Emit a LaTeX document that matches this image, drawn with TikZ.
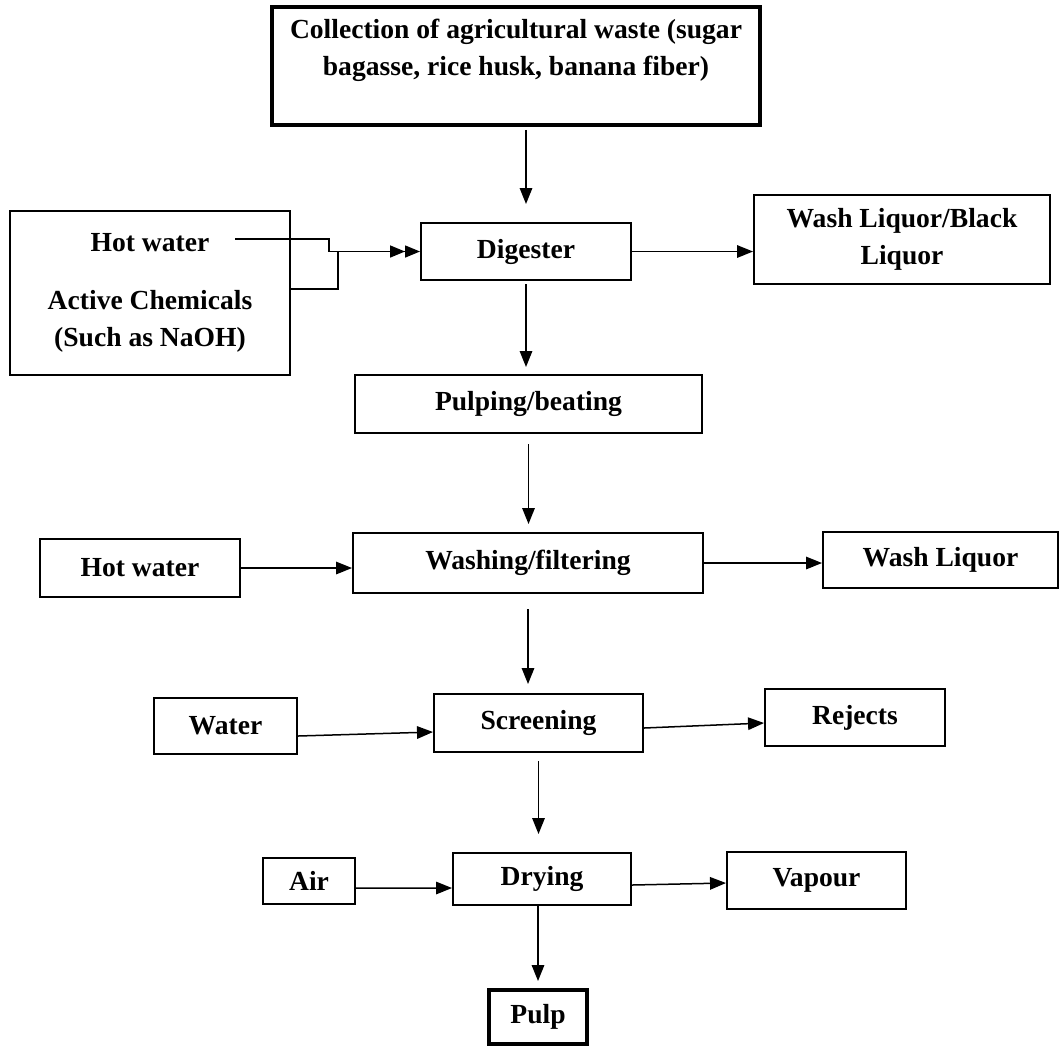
\documentclass[tikz,border=0pt]{standalone}
\usepackage{fontspec}
\setmainfont{Liberation Serif}
\usetikzlibrary{arrows.meta}
\tikzset{
	stage/.style={draw, line width=0.04cm, inner sep=0pt, align=center,
		font=\fontsize{15.7}{21}\selectfont\bfseries},
	heavystage/.style={stage, line width=0.08cm},
	flow/.style={line width=0.03cm, -{Triangle[length=0.32cm,width=0.25cm]}},
	dblflow/.style={line width=0.03cm, -{Triangle[length=0.3cm,width=0.24cm]Triangle[length=0.3cm,width=0.24cm]}}
}

\begin{document}
\begin{tikzpicture}[x=0.02cm, y=-0.02cm]
			%%%%% START %%%%%
			\useasboundingbox (0,0) rectangle (1060,1046);
			
			\node[heavystage, minimum width=9.76cm, minimum height=2.36cm] (collect) at (516,66)
				{Collection of agricultural waste (sugar\\bagasse, rice husk, banana fiber)\\\mbox{}};
			
			\node[stage, minimum width=5.6cm, minimum height=3.28cm] (feed) at (150,293)
				{Hot water\\[0.42cm]Active Chemicals\\(Such as NaOH)};
			\node[stage, minimum width=4.2cm, minimum height=1.14cm] (digest) at (526,251.5) {Digester};
			\node[stage, minimum width=5.92cm, minimum height=1.78cm] (black) at (902,239)
				{Wash Liquor/Black\\Liquor};
			
			\node[stage, minimum width=6.94cm, minimum height=1.16cm] (pulping) at (528.5,404) {Pulping/beating};
			
			\node[stage, minimum width=4cm, minimum height=1.16cm] (hotw) at (140,568) {Hot water};
			\node[stage, minimum width=7cm, minimum height=1.2cm] (washing) at (528,563) {Washing/filtering};
			\node[stage, minimum width=4.7cm, minimum height=1.12cm] (liquor) at (940.5,560) {Wash Liquor};
			
			\node[stage, minimum width=2.86cm, minimum height=1.12cm] (water) at (225.5,726) {Water};
			\node[stage, minimum width=4.18cm, minimum height=1.16cm] (screen) at (538.5,723) {Screening};
			\node[stage, minimum width=3.6cm, minimum height=1.14cm] (rejects) at (855,717.5) {Rejects};
			
			\node[stage, minimum width=1.84cm, minimum height=0.92cm] (air) at (309,881) {Air};
			\node[stage, minimum width=3.56cm, minimum height=1.04cm] (dry) at (542,879) {Drying};
			\node[stage, minimum width=3.58cm, minimum height=1.14cm] (vapour) at (816.5,880.5) {Vapour};
			
			\node[heavystage, minimum width=1.96cm, minimum height=1.08cm] (pulp) at (538,1017) {Pulp};
			
			% feed lines into the digester
			\coordinate (hwend) at (235,239);
			\coordinate (merge) at (338,251.5);
			\draw[dblflow] (hwend) -- ++(94,0) |- (digest.west);
			\draw[line width=0.03cm] ([yshift=0.08cm]feed.east) -| (merge);
			
			% main line
			\draw[flow, shorten <=0.06cm, shorten >=0.36cm] (digest.north |- collect.south) -- (digest.north);
			\draw[flow, shorten <=0.06cm, shorten >=0.14cm] (digest.south) -- (digest.south |- pulping.north);
			\draw[flow, shorten <=0.2cm, shorten >=0.16cm] (pulping.south) -- (pulping.south |- washing.north);
			\draw[flow, shorten <=0.3cm, shorten >=0.18cm] (washing.south) -- (washing.south |- screen.north);
			\draw[flow, shorten <=0.16cm, shorten >=0.36cm] (screen.south) -- (screen.south |- dry.north);
			\draw[flow, shorten >=0.14cm] (pulp.north |- dry.south) -- (pulp.north);
			
			% side streams
			\draw[flow] (digest.east) -- (digest.east -| black.west);
			\draw[flow] (hotw.east) -- (hotw.east -| washing.west);
			\draw[flow] (washing.east) -- (washing.east -| liquor.west);
			\draw[flow] ([yshift=-0.2cm]water.east) -- ([yshift=-0.18cm]screen.west);
			\draw[flow] ([yshift=-0.1cm]screen.east) -- ([yshift=-0.11cm]rejects.west);
			\draw[flow] ([yshift=-0.14cm]air.east) -- ([yshift=-0.18cm]dry.west);
			\draw[flow] ([yshift=-0.12cm]dry.east) -- ([yshift=-0.05cm]vapour.west);
			
			%%%%% END %%%%%
\end{tikzpicture}
\end{document}
